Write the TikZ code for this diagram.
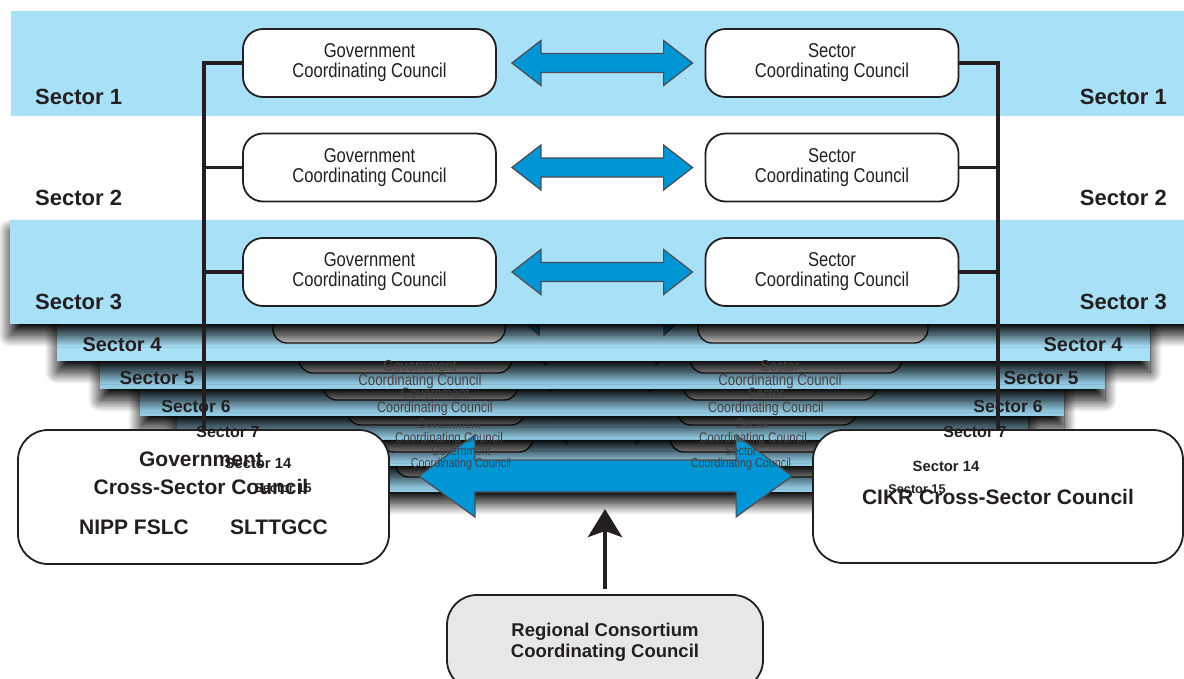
\documentclass[tikz,border=0pt]{standalone}
\usepackage{fontspec}
\setmainfont{Liberation Sans}
\newfontfamily\narrowfont[FakeStretch=0.83]{Liberation Sans}
\usepackage{xcolor}
\usepackage{tikz}
\usetikzlibrary{arrows.meta, calc, shadows.blur}

\definecolor{bandblue}{RGB}{168,224,248}
\definecolor{deepblue}{RGB}{148,204,230}
\definecolor{arrowblue}{RGB}{0,150,214}
\definecolor{arrowedge}{RGB}{75,75,80}
\definecolor{inkgray}{RGB}{35,31,32}
\definecolor{boxgray}{RGB}{230,231,232}

% double-headed block arrow: style, left tip, right tip, shaft half, head half, head length
\newcommand{\dblarrow}[6]{%
  \path[#1] let \p1=#2, \p2=#3 in
    (\x1,\y1) -- (\x1+#6pt,\y1+#5pt) -- (\x1+#6pt,\y1+#4pt)
    -- (\x2-#6pt,\y2+#4pt) -- (\x2-#6pt,\y2+#5pt) -- (\x2,\y2)
    -- (\x2-#6pt,\y2-#5pt) -- (\x2-#6pt,\y2-#4pt)
    -- (\x1+#6pt,\y1-#4pt) -- (\x1+#6pt,\y1-#5pt) -- cycle;}

\begin{document}
\begin{tikzpicture}[
    x=1pt, y=-1pt,
    >=Stealth,
    % Styles
    stackband/.style={blur shadow={shadow xshift=0pt, shadow yshift=-11pt, shadow blur radius=12pt, shadow blur steps=24, shadow opacity=100}},
    deepbox/.style={draw=inkgray, fill=gray!30, line width=1.4pt, rounded corners=14pt},
    govbox/.style={draw=inkgray, fill=white, line width=1.8pt, rounded corners=20pt, minimum width=253pt, minimum height=68pt, inner sep=0pt, align=center, text=inkgray, font=\narrowfont\fontsize{20}{20}\selectfont},
    crossbox/.style={draw=inkgray, fill=white, line width=1.8pt, rounded corners=30pt, minimum width=371pt, minimum height=134pt, inner sep=0pt, align=center, text=inkgray, font=\bfseries\fontsize{21}{28}\selectfont},
    regionbox/.style={draw=inkgray, fill=boxgray, line width=1.8pt, rounded corners=30pt, minimum width=316pt, minimum height=95pt, align=center, text=inkgray, font=\bfseries\fontsize{18.5}{21}\selectfont},
    boldtext/.style={inner sep=0pt, align=center, text=inkgray, font=\bfseries\fontsize{21}{28}\selectfont},
    seclabel/.style={inner sep=0pt, text=inkgray},
    rowtext/.style={inner sep=0pt, text=inkgray!85},
    arrowfill/.style={fill=arrowblue, draw=arrowedge, line width=1.2pt},
    bus/.style={draw=inkgray, line width=3.5pt},
    uparrow/.style={-{Stealth[length=28pt, width=34pt, inset=6pt]}, draw=inkgray, line width=4.5pt}
]
\useasboundingbox (0,0) rectangle (1184,678);

% ========== Stacked sectors (deepest first) ==========
\foreach \ltop/\lbot/\xl/\xr/\bb/\gl/\gr/\sl/\sr/\lc in {
    445/492/230/975/477/395/540/660/840/deepblue,
    420/466/205/1000/452/380/533/670/847/deepblue,
    395/440/177/1028/425/347/525/677/857/deepblue,
    370/416/140/1064/400/323/518/683/877/deepblue,
    340/389/100/1105/373/299/512/690/902/deepblue,
    300/361/57/1150/343/273/505/698/928/bandblue}
{
    \path[stackband, fill=\lc] (\xl,\ltop) rectangle (\xr,\lbot);
    \draw[deepbox] (\gl,\bb-60) rectangle (\gr,\bb);
    \draw[deepbox] (\sl,\bb-60) rectangle (\sr,\bb);
    \dblarrow{arrowfill}{(\gr+12,\bb-28)}{(\sl-12,\bb-28)}{8}{20}{22}
}

% Sector 3 and Sector 1 bands
\path[stackband, fill=bandblue] (10,220) rectangle (1200,324);
\fill[bandblue] (11,11) rectangle (1200,116);

% ========== Cross-sector councils ==========
\node[crossbox] (gcsc) at (203.5,497) {};
\node[boldtext] (gcsctitle) at (201,473) {Government\\Cross-Sector Council};
\node[boldtext] (nipp) at (134,527) {NIPP FSLC};
\node[boldtext] (slttgcc) at (279,527) {SLTTGCC};
\node[crossbox, minimum width=370pt, minimum height=133pt] (cikr) at (998,496.5) {CIKR Cross-Sector Council};

% ========== Coordinating councils ==========
\node[govbox] (gov1) at (369.5,63) {Government\\Coordinating Council};
\node[govbox] (gov2) at (369.5,167.5) {Government\\Coordinating Council};
\node[govbox] (gov3) at (369.5,272) {Government\\Coordinating Council};
\node[govbox] (sec1) at (832,63) {Sector\\Coordinating Council};
\node[govbox] (sec2) at (832,167.5) {Sector\\Coordinating Council};
\node[govbox] (sec3) at (832,272) {Sector\\Coordinating Council};

% ========== Bus lines ==========
\coordinate (lbus) at (204,0);
\coordinate (rbus) at (998,0);
\draw[bus] (gov1.west) -| (gcsc.north -| lbus);
\draw[bus] (gov2.west) -- (gov2.west -| lbus);
\draw[bus] (gov3.west) -- (gov3.west -| lbus);
\draw[bus] (sec1.east) -| (cikr.north -| rbus);
\draw[bus] (sec2.east) -- (sec2.east -| rbus);
\draw[bus] (sec3.east) -- (sec3.east -| rbus);

% ========== Arrows ==========
\dblarrow{arrowfill}{($(gov1.east)+(15,0)$)}{($(sec1.west)+(-12,0)$)}{9.5}{22.5}{29}
\dblarrow{arrowfill}{($(gov2.east)+(15,0)$)}{($(sec2.west)+(-12,0)$)}{9.5}{22.5}{29}
\dblarrow{arrowfill}{($(gov3.east)+(15,0)$)}{($(sec3.west)+(-12,0)$)}{9.5}{22.5}{29}
\dblarrow{arrowfill}{($(gcsc.east)+(29,-21)$)}{($(cikr.west)+(-20,-20.5)$)}{16}{41}{56}

% Texts of the deeper councils
\foreach \ga/\gb/\gx/\sx/\fs [count=\r from 5] in {366/381/420/780/16, 393/409/435/766/15, 424/439/449/753/14, 451/464/461/741/13}
{
    \node[rowtext, font=\narrowfont\fontsize{\fs}{\fs}\selectfont] (govtop\r) at (\gx,\ga) {Government};
    \node[rowtext, font=\narrowfont\fontsize{\fs}{\fs}\selectfont] (govbot\r) at (\gx,\gb) {Coordinating Council};
    \node[rowtext, font=\narrowfont\fontsize{\fs}{\fs}\selectfont] (sectop\r) at (\sx,\ga) {Sector};
    \node[rowtext, font=\narrowfont\fontsize{\fs}{\fs}\selectfont] (secbot\r) at (\sx,\gb) {Coordinating Council};
}

% ========== Sector labels ==========
\foreach \n/\ly in {1/97, 2/198, 3/302}
{
    \node[seclabel, anchor=west, font=\bfseries\fontsize{22}{22}\selectfont] (lab\n-l) at (35,\ly) {Sector \n};
    \node[seclabel, anchor=east, font=\bfseries\fontsize{22}{22}\selectfont] (lab\n-r) at (1167,\ly) {Sector \n};
}
\foreach \n/\lx/\rx/\ly/\ry/\fs in {4/122/1083/345/345/20, 5/157/1041/378/378/19, 6/196/1008/406/406/17.5, 7/228/975/432/432/16, 14/258/946/463/466/14.8, 15/283/917/488/489/12.7}
{
    \node[seclabel, font=\bfseries\fontsize{\fs}{\fs}\selectfont] (lab\n-l) at (\lx,\ly) {Sector \n};
    \node[seclabel, font=\bfseries\fontsize{\fs}{\fs}\selectfont] (lab\n-r) at (\rx,\ry) {Sector \n};
}

% ========== Regional consortium ==========
\node[regionbox] (regional) at (605,642.5) {Regional Consortium\\Coordinating Council};
\coordinate (uptip) at (605,509);
\draw[uparrow] ($(regional.north)+(0,-5)$) -- (uptip);

\end{tikzpicture}
\end{document}
